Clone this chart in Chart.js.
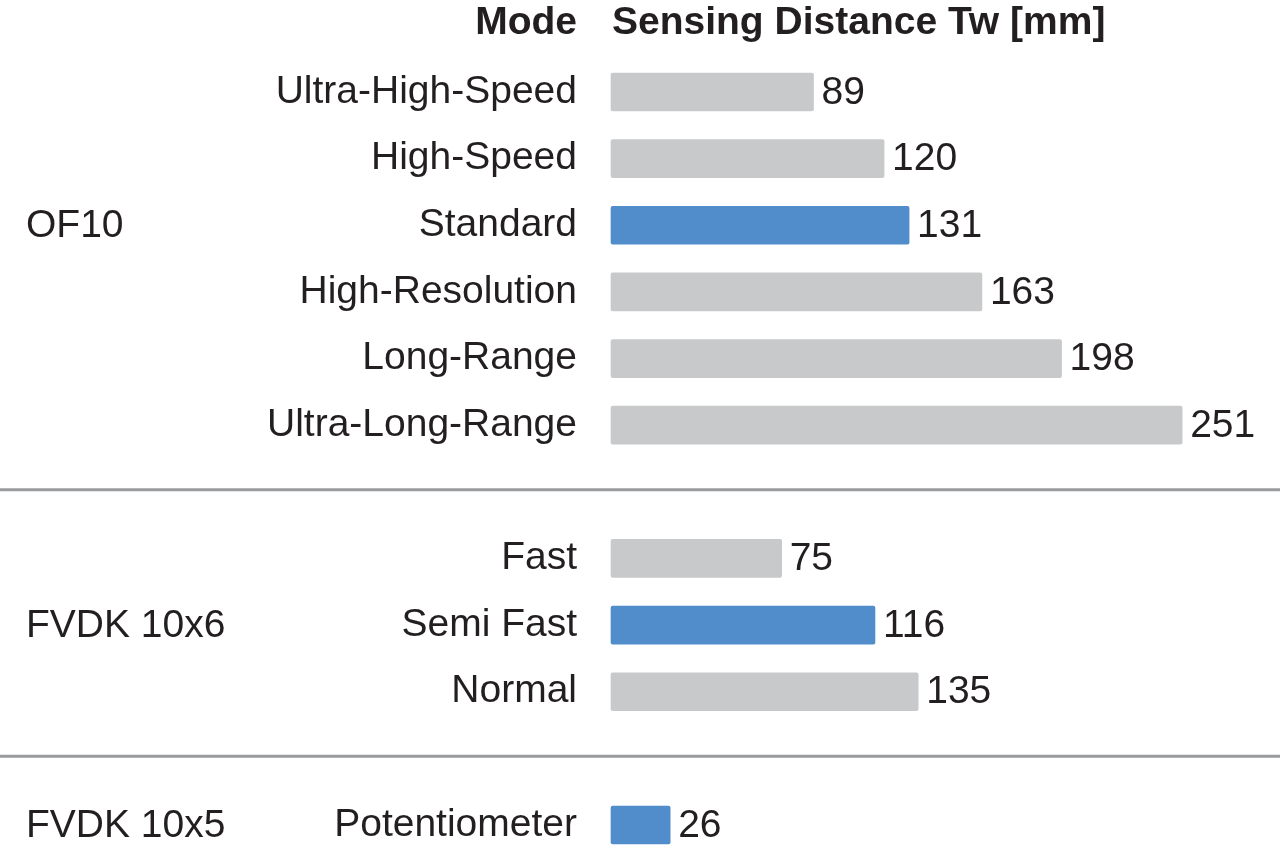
<!DOCTYPE html>
<html>
<head>
<meta charset="utf-8">
<title>Sensing Distance</title>
<script src="https://cdn.jsdelivr.net/npm/chart.js@4.4.1/dist/chart.umd.min.js"></script>
<style>
  html, body { margin: 0; padding: 0; background: #fff; }
  #wrap { width: 1280px; height: 852px; position: relative; }
</style>
</head>
<body>
<div id="wrap"><canvas id="chart"></canvas></div>
<script>
// blank entries are the gaps where the group separators sit
const modes = ['Ultra-High-Speed', 'High-Speed', 'Standard', 'High-Resolution', 'Long-Range', 'Ultra-Long-Range',
  '', 'Fast', 'Semi Fast', 'Normal', '', 'Potentiometer'];
const distances = [89, 120, 131, 163, 198, 251, null, 75, 116, 135, null, 26];
const defaultModes = ['Standard', 'Semi Fast', 'Potentiometer'];
const groups = ['OF10', 'FVDK 10x6', 'FVDK 10x5'];
const groupRows = ['Standard', 'Semi Fast', 'Potentiometer'];
const xMax = 294;

const TEXT = '#231F20';
const GRAY = '#C8C9CB';
const BLUE = '#518DCA';
const FONT = '"Liberation Sans", Arial, sans-serif';

const overlay = {
  id: 'overlay',
  afterDatasetsDraw(chart) {
    const ctx = chart.ctx;
    const area = chart.chartArea;
    const y = chart.scales.y;
    const bars = chart.getDatasetMeta(0).data;

    ctx.save();
    ctx.fillStyle = TEXT;
    ctx.textBaseline = 'middle';
    ctx.font = '39px ' + FONT;

    // value labels at bar ends
    ctx.textAlign = 'left';
    distances.forEach((v, i) => {
      if (v == null) return;
      ctx.fillText(String(v), bars[i].x + 8, bars[i].y + 1);
    });

    // group names on the left
    groups.forEach((g, i) => {
      ctx.fillText(g, 26, y.getPixelForValue(modes.indexOf(groupRows[i])) + 1);
    });

    // header
    ctx.font = 'bold 39px ' + FONT;
    ctx.textAlign = 'right';
    ctx.fillText('Mode', area.left - 34, area.top - 69);
    ctx.textAlign = 'left';
    ctx.fillText('Sensing Distance Tw [mm]', area.left + 1, area.top - 69);

    // separators
    ctx.strokeStyle = '#9A9B9D';
    ctx.lineWidth = 3;
    modes.forEach((m, i) => {
      if (m !== '') return;
      const py = y.getPixelForValue(i) - 2;
      ctx.beginPath();
      ctx.moveTo(0, py);
      ctx.lineTo(chart.width, py);
      ctx.stroke();
    });
    ctx.restore();
  }
};

new Chart(document.getElementById('chart'), {
  type: 'bar',
  data: {
    labels: modes,
    datasets: [{
      data: distances,
      backgroundColor: modes.map((m) => (defaultModes.includes(m) ? BLUE : GRAY)),
      barThickness: 38,
      borderRadius: 2,
      borderSkipped: false,
      clip: false,
    }],
  },
  options: {
    indexAxis: 'y',
    responsive: true,
    maintainAspectRatio: false,
    animation: false,
    layout: { padding: { top: 92, bottom: 27, left: 0, right: 0 } },
    plugins: {
      legend: { display: false },
      tooltip: { enabled: false },
    },
    scales: {
      x: {
        display: false,
        min: 0,
        max: xMax,
      },
      y: {
        offset: false,
        // tick length gives the gap between labels and bars (tick padding would also pad the chart area)
        grid: { display: false, tickLength: 34 },
        border: { display: false },
        afterFit: (s) => { s.width = 611; },
        ticks: {
          autoSkip: false,
          padding: 0,
          color: TEXT,
          font: { family: FONT, size: 39 },
        },
      },
    },
  },
  plugins: [overlay],
});
</script>
</body>
</html>
